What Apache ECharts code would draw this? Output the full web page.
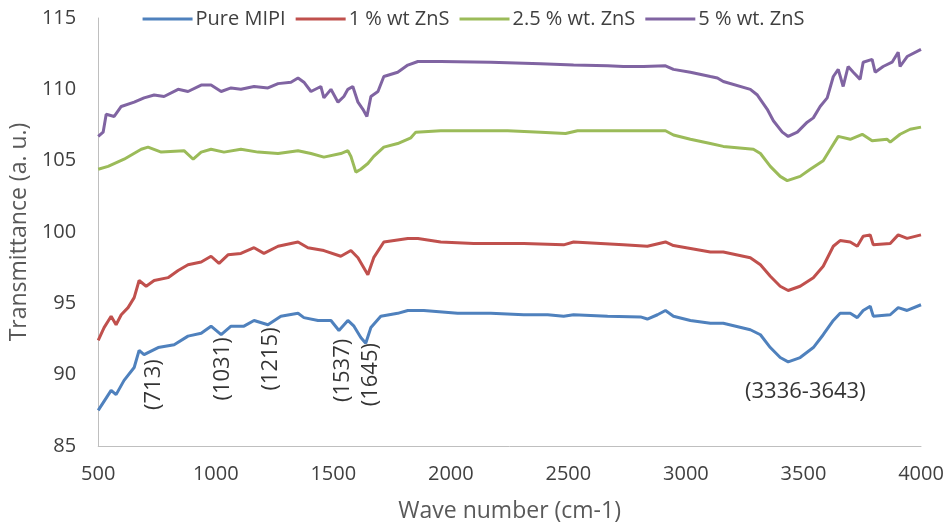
<!DOCTYPE html>
<html>
<head>
<meta charset="utf-8">
<script src="https://cdn.jsdelivr.net/npm/echarts@6/dist/echarts.min.js"></script>
<style>
  html, body { margin: 0; padding: 0; background: #fff; }
  #chart { width: 947px; height: 528px; }
</style>
</head>
<body>
<div id="chart"></div>
<script>
const seriesNames = ['Pure MIPI', '1 % wt ZnS', '2.5 % wt. ZnS', '5 % wt. ZnS'];
const colors = ['#4F81BD', '#C0504D', '#9BBB59', '#8064A2'];

// [wave number, transmittance]
const pureMipi = [
  [500, 87.5], [555, 88.9], [576, 88.6], [610, 89.6], [653, 90.5], [674, 91.7], [695, 91.4],
  [755, 91.9], [823, 92.1], [882, 92.7], [938, 92.9], [980, 93.4], [1023, 92.8], [1065, 93.4],
  [1120, 93.4], [1163, 93.8], [1222, 93.5], [1277, 94.1], [1350, 94.3], [1375, 94.0], [1435, 93.8],
  [1490, 93.8], [1524, 93.1], [1562, 93.8], [1588, 93.4], [1617, 92.6], [1638, 92.2], [1660, 93.3],
  [1702, 94.1], [1774, 94.3], [1817, 94.5], [1885, 94.5], [2029, 94.3], [2170, 94.3], [2310, 94.2],
  [2412, 94.2], [2480, 94.1], [2522, 94.2], [2667, 94.1], [2807, 94.05], [2836, 93.9], [2879, 94.2],
  [2913, 94.5], [2947, 94.1], [3019, 93.8], [3104, 93.6], [3159, 93.6], [3274, 93.15], [3317, 92.8],
  [3359, 91.9], [3401, 91.2], [3435, 90.9], [3486, 91.2], [3542, 91.9], [3584, 92.8], [3627, 93.8],
  [3656, 94.3], [3699, 94.3], [3729, 94.0], [3754, 94.5], [3784, 94.8], [3797, 94.1], [3869, 94.2],
  [3903, 94.7], [3941, 94.5], [4000, 94.9]
];
const znS1 = [
  [500, 92.4], [525, 93.3], [555, 94.1], [576, 93.5], [598, 94.2], [627, 94.7], [653, 95.4],
  [674, 96.6], [704, 96.2], [738, 96.6], [797, 96.8], [840, 97.3], [882, 97.7], [938, 97.9],
  [980, 98.3], [1014, 97.8], [1052, 98.4], [1107, 98.5], [1163, 98.9], [1205, 98.5], [1265, 99.0],
  [1350, 99.3], [1392, 98.9], [1460, 98.7], [1532, 98.3], [1575, 98.7], [1605, 98.2], [1647, 97.0],
  [1672, 98.2], [1715, 99.3], [1817, 99.55], [1860, 99.55], [1957, 99.3], [2097, 99.2], [2310, 99.2],
  [2480, 99.1], [2522, 99.3], [2734, 99.1], [2836, 99.0], [2913, 99.3], [2947, 99.05], [3104, 98.6],
  [3159, 98.6], [3274, 98.2], [3317, 97.7], [3359, 96.9], [3401, 96.2], [3435, 95.9], [3486, 96.2],
  [3542, 96.8], [3584, 97.6], [3627, 99.0], [3656, 99.4], [3699, 99.3], [3729, 99.0], [3754, 99.7],
  [3784, 99.8], [3797, 99.1], [3869, 99.2], [3903, 99.8], [3941, 99.55], [4000, 99.8]
];
const znS25 = [
  [500, 104.4], [542, 104.6], [610, 105.1], [683, 105.8], [712, 105.95], [768, 105.6], [865, 105.7],
  [904, 105.1], [938, 105.6], [980, 105.8], [1035, 105.6], [1107, 105.8], [1180, 105.6], [1265, 105.5],
  [1350, 105.7], [1405, 105.5], [1460, 105.25], [1532, 105.5], [1562, 105.7], [1575, 105.3],
  [1596, 104.2], [1617, 104.4], [1647, 104.8], [1672, 105.3], [1715, 105.95], [1774, 106.2],
  [1830, 106.6], [1851, 107.0], [1957, 107.1], [2242, 107.1], [2382, 107.0], [2488, 106.9],
  [2539, 107.1], [2734, 107.1], [2841, 107.1], [2913, 107.1], [2947, 106.8], [3019, 106.5],
  [3104, 106.2], [3159, 106.0], [3287, 105.8], [3317, 105.5], [3359, 104.6], [3401, 103.9],
  [3431, 103.6], [3486, 103.9], [3529, 104.4], [3584, 105.0], [3614, 105.8], [3648, 106.7],
  [3699, 106.5], [3750, 106.85], [3792, 106.4], [3856, 106.5], [3869, 106.3], [3911, 106.85],
  [3954, 107.2], [4000, 107.35]
];
const znS5 = [
  [500, 106.7], [521, 107.0], [534, 108.25], [568, 108.1], [598, 108.8], [653, 109.1], [695, 109.4],
  [738, 109.6], [780, 109.5], [840, 110.0], [882, 109.85], [938, 110.3], [980, 110.3], [1023, 109.85],
  [1065, 110.1], [1107, 110.0], [1163, 110.2], [1222, 110.1], [1265, 110.4], [1320, 110.5],
  [1350, 110.8], [1375, 110.5], [1405, 109.85], [1447, 110.2], [1460, 109.4], [1490, 110.0],
  [1520, 109.1], [1545, 109.5], [1562, 110.0], [1583, 110.2], [1605, 109.1], [1626, 108.6],
  [1643, 108.1], [1660, 109.5], [1690, 109.85], [1715, 110.9], [1774, 111.2], [1817, 111.7],
  [1860, 111.95], [1957, 111.95], [2170, 111.9], [2382, 111.8], [2522, 111.7], [2667, 111.65],
  [2734, 111.6], [2820, 111.6], [2913, 111.65], [2947, 111.4], [3019, 111.2], [3104, 110.9],
  [3134, 110.8], [3159, 110.55], [3274, 110.0], [3304, 109.6], [3346, 108.6], [3372, 107.8],
  [3410, 107.0], [3435, 106.7], [3474, 107.0], [3516, 107.7], [3542, 108.0], [3571, 108.8],
  [3601, 109.4], [3627, 110.9], [3648, 111.4], [3669, 110.2], [3690, 111.6], [3712, 111.2],
  [3741, 110.7], [3754, 111.9], [3792, 112.1], [3805, 111.2], [3839, 111.6], [3877, 111.9],
  [3903, 112.6], [3911, 111.6], [3941, 112.3], [4000, 112.8]
];
// peak labels: [x, y, text, rotation]
const peakLabels = [
  [738, 89.3, '(713)', 90],
  [1031, 90.4, '(1031)', 90],
  [1235, 91.1, '(1215)', 90],
  [1541, 90.3, '(1537)', 90],
  [1660, 90.0, '(1645)', 90],
  [3508, 88.8, '(3336-3643)', 0]
];

const font = 'Open Sans';
const chart = echarts.init(document.getElementById('chart'));
const allData = [pureMipi, znS1, znS25, znS5];

chart.setOption({
  animation: false,
  textStyle: { fontFamily: font },
  grid: { left: 97, right: 26, top: 18, bottom: 79 },
  legend: {
    data: seriesNames,
    top: 4,
    left: 'center',
    icon: 'rect',
    itemWidth: 50,
    itemHeight: 3,
    itemGap: 10,
    textStyle: { fontFamily: font, fontSize: 20, color: '#404040', padding: [0, 0, 0, -2] }
  },
  xAxis: {
    type: 'value',
    min: 500,
    max: 4000,
    interval: 500,
    name: 'Wave number (cm-1)',
    nameLocation: 'middle',
    nameGap: 54,
    nameTextStyle: { fontSize: 23, color: '#595959' },
    axisLine: { lineStyle: { color: '#BFBFBF', width: 1 } },
    axisTick: { show: false },
    splitLine: { show: false },
    axisLabel: { fontSize: 20, color: '#404040', margin: 18, formatter: v => String(v) }
  },
  yAxis: {
    type: 'value',
    min: 85,
    max: 115,
    interval: 5,
    name: 'Transmittance (a. u.)',
    nameLocation: 'middle',
    nameGap: 63,
    nameTextStyle: { fontSize: 23, color: '#595959' },
    axisLine: { show: true, lineStyle: { color: '#BFBFBF', width: 1 } },
    axisTick: { show: false },
    splitLine: { show: false },
    axisLabel: { fontSize: 20, color: '#404040', margin: 22 }
  },
  series: seriesNames.map((name, i) => ({
    name,
    type: 'line',
    data: allData[i],
    showSymbol: false,
    symbol: 'none',
    color: colors[i],
    lineStyle: { width: 3, color: colors[i] }
  })).concat([{
    name: 'labels',
    type: 'scatter',
    silent: true,
    symbolSize: 0,
    data: peakLabels,
    label: {
      show: true,
      position: 'inside',
      formatter: p => p.value[2],
      fontFamily: font,
      fontSize: 22,
      color: '#000'
    },
    labelLayout: p => ({ rotate: peakLabels[p.dataIndex][3] })
  }])
});
</script>
</body>
</html>
